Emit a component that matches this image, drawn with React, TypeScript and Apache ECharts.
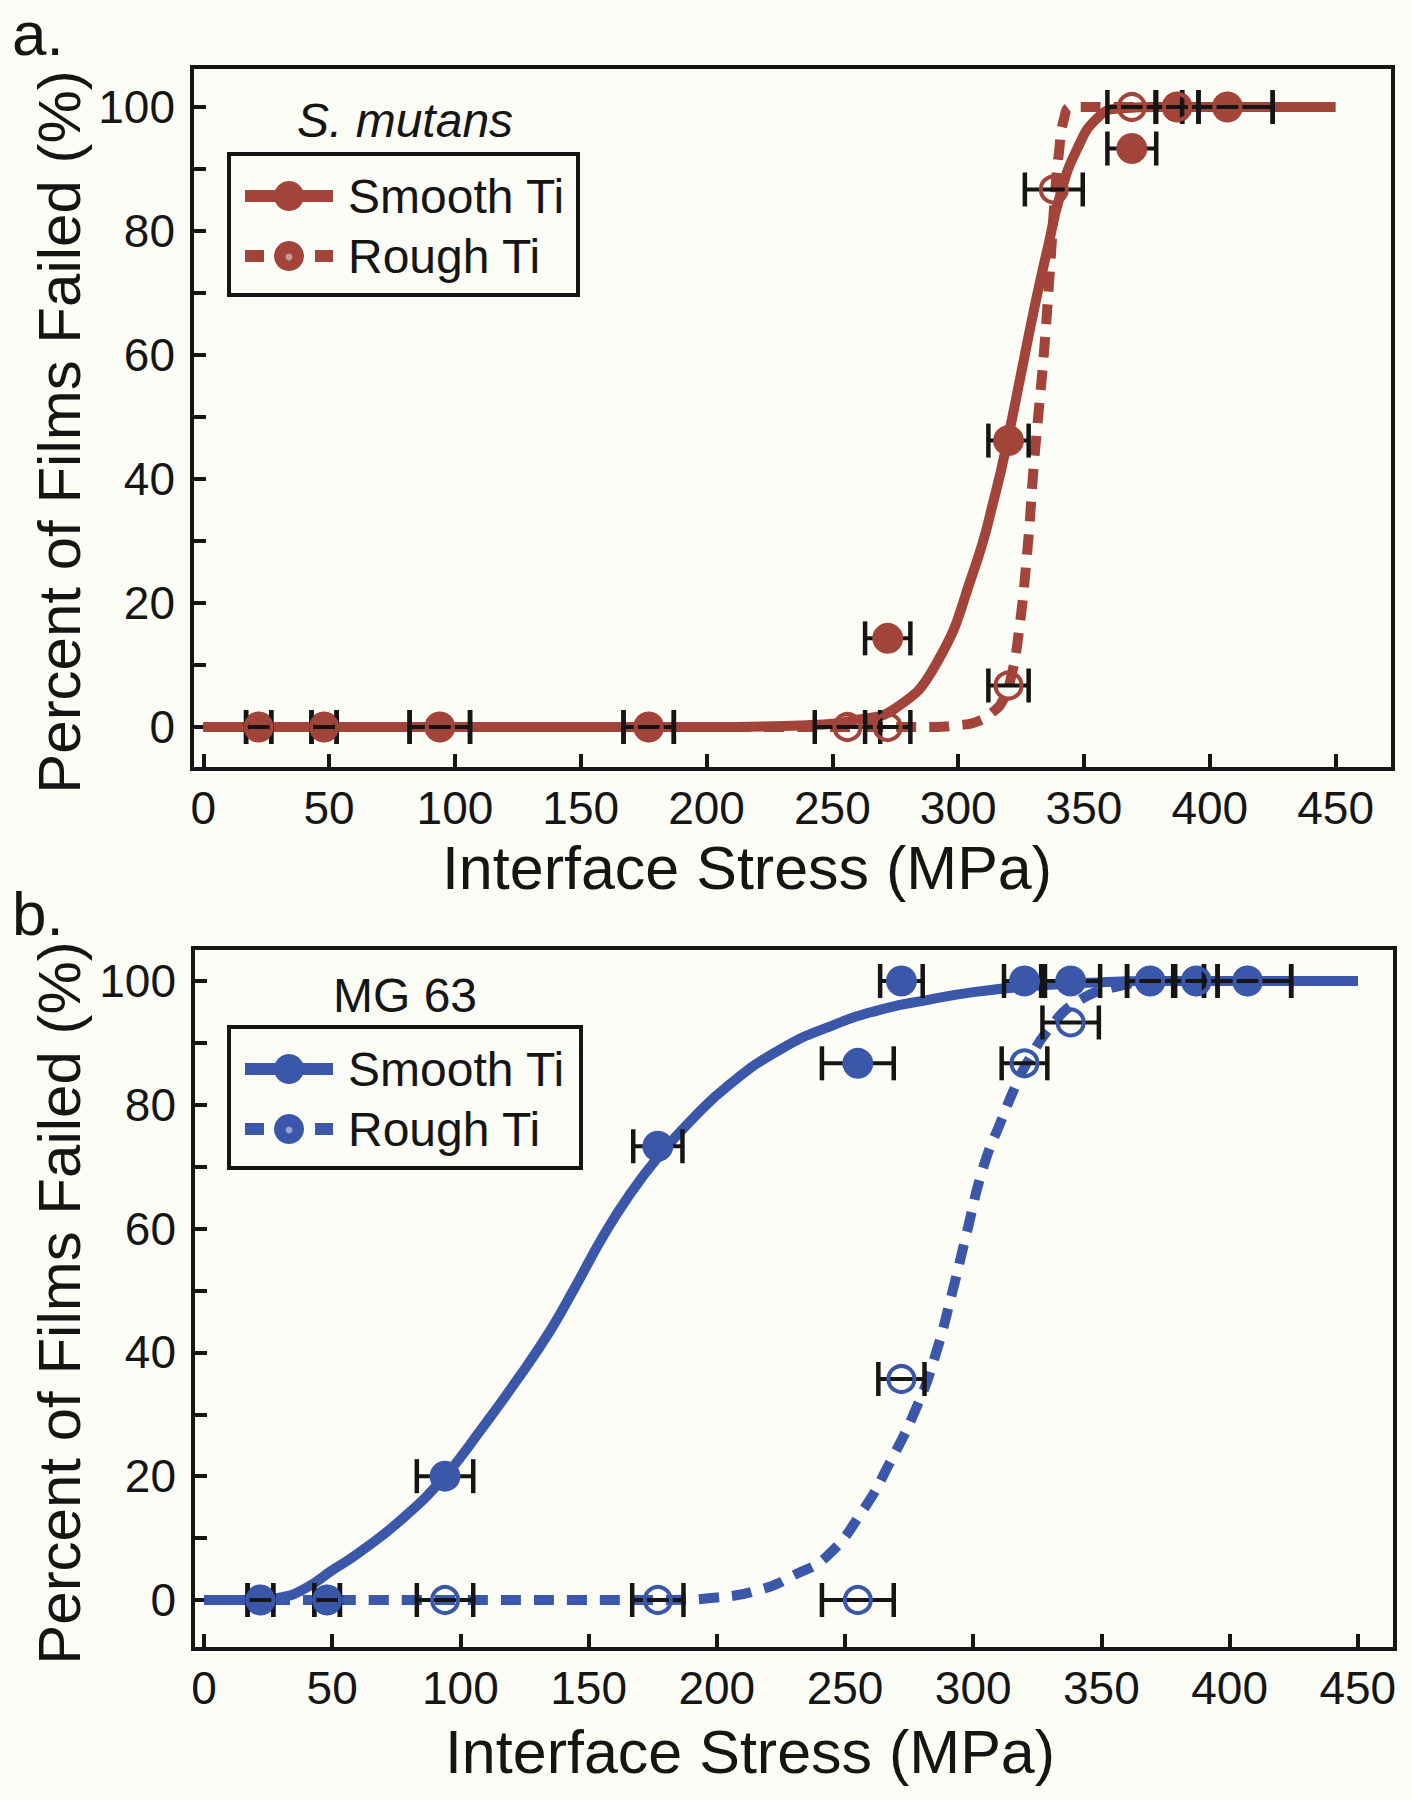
import React, { useEffect, useRef } from 'react';
import * as echarts from 'echarts';

const BROWN = '#A2443A';
const BLUE = '#3B57A9';
const INK = '#151515';
const BG = '#fdfdf8';
const FONT = '"Liberation Sans", Arial, Helvetica, sans-serif';

// axis ticks / labels
const xTickValues = [0, 50, 100, 150, 200, 250, 300, 350, 400, 450];
const yTickValues = [0, 10, 20, 30, 40, 50, 60, 70, 80, 90, 100];
const yLabelValues = [0, 20, 40, 60, 80, 100];

// Panel a (S. mutans) — measured points
const aSmoothStress = [22, 48, 94, 177, 272, 320, 369, 387, 407];
const aSmoothFailed = [0, 0, 0, 0, 14.3, 46.2, 93.3, 100, 100];
const aSmoothErr = [5, 5, 12, 10, 9, 8, 9.7, 8.5, 18];
const aRoughStress = [22, 48, 94, 177, 256, 272, 320, 338, 369, 387, 407];
const aRoughFailed = [0, 0, 0, 0, 0, 0, 6.7, 86.7, 100, 100, 100];
const aRoughErr = [5, 5, 12, 10, 13, 9, 8, 11.5, 9.7, 8.5, 18];

// Panel a fitted curves
const aFitSmoothX = [0, 200, 240, 260, 275, 291, 306, 315, 320, 325, 331, 336, 340, 347, 356, 365, 380, 450];
const aFitSmoothY = [0, 0, 0.3, 1.2, 3, 10, 25, 38, 47, 57, 69, 78, 85, 93, 98.5, 99.8, 100, 100];
const aFitRoughX = [0, 290, 300, 307, 314, 318, 321, 324, 327.5, 330, 332, 334, 336.5, 338.5, 340, 342, 345, 360, 450];
const aFitRoughY = [0, 0, 0.3, 0.8, 2.5, 4.5, 8, 15, 28.5, 42, 51, 60, 74, 86, 92.5, 98, 100, 100, 100];

// Panel b (MG 63) — measured points
const bSmoothStress = [22, 48, 94, 177, 255, 272, 320, 338, 369, 387, 407];
const bSmoothFailed = [0, 0, 20, 73.3, 86.7, 100, 100, 100, 100, 100, 100];
const bSmoothErr = [5, 5, 11, 9.6, 14, 8.3, 8, 11.5, 9, 8.3, 17];
const bRoughStress = [22, 48, 94, 177, 255, 272, 320, 338, 369, 387, 407];
const bRoughFailed = [0, 0, 0, 0, 0, 35.7, 86.7, 93.3, 100, 100, 100];
const bRoughErr = [5, 5, 11, 10, 14, 9, 8.9, 11, 9, 8.3, 17];

// Panel b fitted curves
const bFitSmoothX = [0, 20, 30, 40, 50, 60, 77, 94, 108, 122, 135, 144, 156, 166, 177, 190, 205, 225, 245, 265, 283, 300, 320, 345, 370, 450];
const bFitSmoothY = [0, 0, 0.4, 2, 4.8, 7.5, 13, 20, 27.5, 35.5, 43.5, 50, 59, 65.5, 71.5, 77.5, 83.3, 89, 92.8, 95.5, 97, 98.2, 99.1, 99.7, 100, 100];
const bFitRoughX = [0, 180, 200, 218, 230, 243, 257, 267, 278, 285, 292, 297, 304, 311, 317, 322, 330, 340, 355, 375, 450];
const bFitRoughY = [0, 0, 0.4, 1.8, 4, 7.1, 14.5, 21.8, 31.2, 39.2, 50, 58.5, 70, 77.5, 83.5, 87.5, 92.5, 96.5, 99, 100, 100];

const pairs = (xs: number[], ys: number[]) => xs.map((x, i) => [x, ys[i]]);

function fitSeries(xs: number[], ys: number[], idx: number, color: string, dashed: boolean, z: number) {
  return {
    type: 'line',
    xAxisIndex: idx,
    yAxisIndex: idx,
    data: pairs(xs, ys),
    smooth: 0.5,
    showSymbol: false,
    symbol: 'none',
    silent: true,
    z,
    lineStyle: {
      color,
      width: 10,
      type: dashed ? [20, 13] : 'solid',
      cap: 'butt',
      join: 'round',
    },
  };
}

function errSeries(xs: number[], ys: number[], es: number[], idx: number, z: number) {
  return {
    type: 'custom',
    xAxisIndex: idx,
    yAxisIndex: idx,
    z,
    silent: true,
    clip: false,
    encode: { x: 0, y: 1 },
    data: xs.map((x, i) => [x, ys[i], es[i]]),
    renderItem: (_params: any, api: any) => {
      const x = api.value(0) as number;
      const y = api.value(1) as number;
      const e = api.value(2) as number;
      const l = api.coord([x - e, y]);
      const r = api.coord([x + e, y]);
      const h = 17;
      const capStyle = { stroke: INK, lineWidth: 4.5 };
      return {
        type: 'group',
        children: [
          { type: 'line', shape: { x1: l[0], y1: l[1], x2: r[0], y2: r[1] }, style: { stroke: INK, lineWidth: 4 } },
          { type: 'line', shape: { x1: l[0], y1: l[1] - h, x2: l[0], y2: l[1] + h }, style: capStyle },
          { type: 'line', shape: { x1: r[0], y1: r[1] - h, x2: r[0], y2: r[1] + h }, style: capStyle },
        ],
      };
    },
  };
}

function dotSeries(name: string, xs: number[], ys: number[], idx: number, color: string, open: boolean, z: number) {
  return {
    name,
    type: 'scatter',
    xAxisIndex: idx,
    yAxisIndex: idx,
    data: pairs(xs, ys),
    symbol: 'circle',
    symbolSize: open ? 26 : 31,
    silent: true,
    z,
    itemStyle: open
      ? { color: 'rgba(0,0,0,0)', borderColor: color, borderWidth: 4, opacity: 1 }
      : { color, borderWidth: 0, opacity: 1 },
  };
}

function xAxisCfg(gridIndex: number, min: number, max: number) {
  return {
    type: 'value',
    gridIndex,
    min,
    max,
    axisLine: { show: false, onZero: false },
    splitLine: { show: false },
    axisTick: { show: true, inside: true, length: 15, lineStyle: { color: INK, width: 4 }, customValues: xTickValues },
    axisLabel: { show: true, customValues: xTickValues, fontSize: 46, fontFamily: FONT, color: INK, margin: 16 },
  };
}

function yAxisCfg(gridIndex: number, min: number, max: number) {
  return {
    type: 'value',
    gridIndex,
    min,
    max,
    axisLine: { show: false, onZero: false },
    splitLine: { show: false },
    axisTick: { show: true, inside: true, length: 14, lineStyle: { color: INK, width: 4 }, customValues: yTickValues },
    axisLabel: { show: true, customValues: yLabelValues, fontSize: 46, fontFamily: FONT, color: INK, margin: 17 },
  };
}

function txt(text: string, x: number, y: number, size: number, opts: any = {}) {
  return {
    type: 'text',
    x,
    y,
    rotation: opts.rotation || 0,
    z: 100,
    silent: true,
    style: {
      text,
      fill: INK,
      fontSize: size,
      fontFamily: FONT,
      fontStyle: opts.italic ? 'italic' : 'normal',
      align: opts.align || 'left',
      verticalAlign: 'middle',
      textAlign: opts.align || 'left',
      textVerticalAlign: 'middle',
    },
  };
}

function legendBox(top: number, width: number, color: string) {
  const left = 229;
  const r1 = top + 42;
  const r2 = top + 102;
  return [
    { type: 'rect', z: 100, silent: true, shape: { x: left, y: top, width, height: 141 }, style: { fill: BG, stroke: INK, lineWidth: 4 } },
    { type: 'line', z: 101, silent: true, shape: { x1: 245, y1: r1, x2: 333, y2: r1 }, style: { stroke: color, lineWidth: 12 } },
    { type: 'circle', z: 102, silent: true, shape: { cx: 289, cy: r1, r: 15 }, style: { fill: color } },
    { type: 'line', z: 101, silent: true, shape: { x1: 245, y1: r2, x2: 264, y2: r2 }, style: { stroke: color, lineWidth: 12 } },
    { type: 'line', z: 101, silent: true, shape: { x1: 315, y1: r2, x2: 333, y2: r2 }, style: { stroke: color, lineWidth: 12 } },
    { type: 'circle', z: 102, silent: true, shape: { cx: 289, cy: r2, r: 15 }, style: { fill: color } },
    { type: 'circle', z: 103, silent: true, shape: { cx: 289, cy: r2 + 1, r: 3.5 }, style: { fill: 'rgba(255,255,255,0.45)' } },
    txt('Smooth Ti', 348, r1, 48),
    txt('Rough Ti', 348, r2, 48),
  ];
}

export default function App() {
  const ref = useRef<HTMLDivElement>(null);

  useEffect(() => {
    if (!ref.current) return;
    const chart = echarts.init(ref.current, undefined, { renderer: 'svg' });
    const option: any = {
      animation: false,
      backgroundColor: BG,
      grid: [
        { left: 192, top: 67, width: 1201, height: 702, show: true, borderColor: INK, borderWidth: 4, backgroundColor: 'transparent' },
        { left: 193, top: 948, width: 1202, height: 701, show: true, borderColor: INK, borderWidth: 4, backgroundColor: 'transparent' },
      ],
      xAxis: [xAxisCfg(0, -4.49, 472.8), xAxisCfg(1, -4.29, 464.5)],
      yAxis: [yAxisCfg(0, -6.77, 106.45), yAxisCfg(1, -7.92, 105.33)],
      series: [
        fitSeries(aFitRoughX, aFitRoughY, 0, BROWN, true, 2),
        fitSeries(aFitSmoothX, aFitSmoothY, 0, BROWN, false, 3),
        errSeries(aSmoothStress, aSmoothFailed, aSmoothErr, 0, 4),
        dotSeries('Smooth Ti', aSmoothStress, aSmoothFailed, 0, BROWN, false, 5),
        errSeries(aRoughStress, aRoughFailed, aRoughErr, 0, 6),
        dotSeries('Rough Ti', aRoughStress, aRoughFailed, 0, BROWN, true, 7),

        fitSeries(bFitRoughX, bFitRoughY, 1, BLUE, true, 2),
        fitSeries(bFitSmoothX, bFitSmoothY, 1, BLUE, false, 3),
        errSeries(bSmoothStress, bSmoothFailed, bSmoothErr, 1, 4),
        dotSeries('Smooth Ti', bSmoothStress, bSmoothFailed, 1, BLUE, false, 5),
        errSeries(bRoughStress, bRoughFailed, bRoughErr, 1, 6),
        dotSeries('Rough Ti', bRoughStress, bRoughFailed, 1, BLUE, true, 7),
      ],
      graphic: {
        elements: [
          txt('a.', 12, 33, 62),
          txt('b.', 12, 913, 62),
          txt('Interface Stress (MPa)', 747, 868, 61, { align: 'center' }),
          txt('Interface Stress (MPa)', 750, 1752, 61, { align: 'center' }),
          txt('Percent of Films Failed (%)', 59, 432, 60, { align: 'center', rotation: Math.PI / 2 }),
          txt('Percent of Films Failed (%)', 59, 1303, 60, { align: 'center', rotation: Math.PI / 2 }),
          txt('S. mutans', 297, 120, 48, { italic: true }),
          txt('MG 63', 333, 995, 48),
          ...legendBox(154, 349, BROWN),
          ...legendBox(1027, 352, BLUE),
        ],
      },
    };
    chart.setOption(option);
    return () => chart.dispose();
  }, []);

  return (
    <div
      ref={ref}
      style={{ position: 'absolute', left: 0, top: 0, width: 1412, height: 1800, background: BG }}
    />
  );
}
